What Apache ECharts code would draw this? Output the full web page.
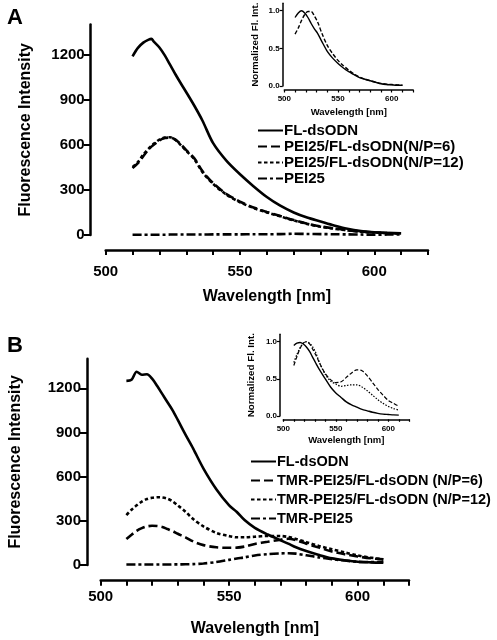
<!DOCTYPE html>
<html><head><meta charset="utf-8">
<script src="https://cdn.jsdelivr.net/npm/echarts@6/dist/echarts.min.js"></script>
<style>html,body{margin:0;padding:0;background:#fff}#c{width:497px;height:640px}</style>
</head><body><div id="c"></div>
<script>
// ---------- Panel A (main) ----------
var wlA = [510,512,514,516,517,518,520,522,524,526,528,530,533,536,540,545,550,555,560,565,570,575,580,585,590,595,600,605,610];
var flA    = [1189,1245,1280,1300,1305,1285,1248,1195,1132,1068,1008,950,860,762,611,493,404,325,253,195,150,116,90,64,42,27,18,14,11];
var np6A   = [445,478,525,570,588,602,630,645,648,635,602,565,510,425,345,272,222,183,153,126,99,75,57,44,32,23,17,13,11];
var np12A  = [452,485,535,575,592,608,635,648,650,632,598,560,505,420,340,268,218,180,150,124,97,74,55,42,31,22,16,12,10];
var peiA   = [2,2,2,2,2,2,2,2,3,3,3,3,3,3,4,4,4,5,5,6,8,7,6,5,4,3,2,3,4];
var namesA = ['FL-dsODN','PEI25/FL-dsODN(N/P=6)','PEI25/FL-dsODN(N/P=12)','PEI25'];

// ---------- Panel B (main) ----------
var wlB = [510,512,514,516,518,520,522,524,526,528,530,533,536,540,545,550,553,556,560,565,570,573,576,580,585,590,595,600,605,610];
var flB    = [1250,1258,1312,1292,1295,1265,1215,1160,1105,1050,985,885,790,655,515,405,360,305,252,207,168,145,120,95,68,45,32,22,18,16];
var np6B   = [176,205,232,250,262,266,265,258,244,230,212,188,160,135,120,117,118,125,143,158,172,178,168,145,118,92,73,58,46,38];
var np12B  = [339,375,405,430,448,456,460,458,450,432,405,362,312,262,218,196,188,188,192,197,197,190,177,155,129,107,85,65,50,38];
var tmrB   = [3,3,3,3,3,3,3,3,3,4,4,5,6,10,20,35,44,52,65,74,79,80,77,66,52,40,30,22,20,20];
var namesB = ['FL-dsODN','TMR-PEI25/FL-dsODN (N/P=6)','TMR-PEI25/FL-dsODN (N/P=12)','TMR-PEI25'];

// ---------- Insets (normalized) ----------
var wlIn = [510,513,516,519,522,525,528,531,535,540,545,550,555,560,565,570,575,580,585,590,595,600,605,610];
var inA_fl  = [0.91,0.97,1.0,0.97,0.91,0.83,0.76,0.70,0.59,0.46,0.37,0.30,0.24,0.19,0.15,0.11,0.09,0.07,0.05,0.03,0.02,0.015,0.01,0.01];
var inA_np  = [0.69,0.77,0.87,0.95,0.99,0.99,0.93,0.85,0.70,0.54,0.43,0.34,0.27,0.21,0.16,0.12,0.09,0.07,0.05,0.035,0.025,0.02,0.015,0.01];
var inB_fl  = [0.95,0.98,0.99,0.97,0.93,0.87,0.79,0.71,0.61,0.50,0.39,0.31,0.25,0.19,0.15,0.12,0.09,0.07,0.05,0.035,0.025,0.02,0.015,0.012];
var inB_np6 = [0.68,0.80,0.91,0.98,1.0,0.97,0.90,0.82,0.70,0.57,0.49,0.45,0.46,0.52,0.58,0.62,0.61,0.54,0.45,0.36,0.28,0.21,0.17,0.13];
var inB_np12= [0.72,0.83,0.92,0.98,1.0,0.98,0.93,0.85,0.70,0.56,0.47,0.43,0.40,0.41,0.42,0.42,0.39,0.34,0.28,0.22,0.17,0.13,0.10,0.08];

// ---------- Ticks ----------
var xTicks = [500,510,520,530,540,550,560,570,580,590,600,610,620];
var xLabels = [500,550,600];
var yTicksMain = [0,300,600,900,1200];
var yTicksInset = [0,0.5,1.0];
var xTitle = 'Wavelength [nm]';
var yTitleMain = 'Fluorescence Intensity';
var yTitleInset = 'Normalized Fl. Int.';

var FONT = 'Liberation Sans, Arial, sans-serif';
function pairs(xs, ys){ return xs.map(function(x,i){return [x, ys[i]];}); }

var styles = [
  {type:'solid'},
  {type:[9,4]},
  {type:[3.5,2.5]},
  {type:[9,3,3,3]}
];
var inStyles = [{type:'solid'},{type:[4,2]},{type:[1.5,1.5]}];

function xAx(gi, offset, fs, titleFs, gap, tickLen, margin){
  return {type:'value', gridIndex:gi, min:500, max:620, position:'bottom', offset:offset,
    axisLine:{show:true, onZero:false, lineStyle:{color:'#000', width: fs>10?2.5:1.5}},
    axisTick:{show:true, customValues:xTicks, length:tickLen, lineStyle:{color:'#000', width: fs>10?2:1.2}},
    axisLabel:{customValues:xLabels, color:'#000', fontSize:fs, fontWeight:'bold', fontFamily:FONT, margin:margin},
    splitLine:{show:false},
    name:xTitle, nameLocation:'middle', nameGap:gap,
    nameTextStyle:{color:'#000', fontSize:titleFs, fontWeight:'bold', fontFamily:FONT}};
}
function yAx(gi, max, ticks, offset, fs, titleFs, gap, tickLen, fmt){
  return {type:'value', gridIndex:gi, min:0, max:max, offset:offset,
    axisLine:{show:true, lineStyle:{color:'#000', width: fs>10?2.5:1.5}},
    axisTick:{show:true, customValues:ticks, length:tickLen, lineStyle:{color:'#000', width: fs>10?2:1.2}},
    axisLabel:{customValues:ticks, color:'#000', fontSize:fs, fontWeight:'bold', fontFamily:FONT, margin: fs>10?6:3, formatter:fmt},
    splitLine:{show:false},
    name:yTitleMain, nameLocation:'middle', nameGap:gap, nameRotate:90,
    nameTextStyle:{color:'#000', fontSize:titleFs, fontWeight:'bold', fontFamily:FONT}};
}

var grids = [
  {left:105.7, right:69, top:24.6, bottom:405},      // A main
  {left:284.3, right:83.8, top:3.2, bottom:554},     // A inset
  {left:89, right:88, top:358.8, bottom:75},         // B main
  {left:283.3, right:87.7, top:334.3, bottom:224}    // B inset
];

var xAxes = [
  xAx(0, 15, 15, 16, 39, 5, 14),
  xAx(1, 4, 8, 9.5, 17, 2.5, 5),
  xAx(2, 15.7, 15, 16, 40, 5, 9),
  xAx(3, 3.3, 8, 9.5, 16, 2.5, 5)
];
var fmtInset = function(v){ return v.toFixed(1); };
var fmtMain = function(v){ return String(v); };
var yAxes = [
  yAx(0, 1400, yTicksMain, 15, 15, 16, 57, 7, fmtMain),
  yAx(1, 1.1, yTicksInset, 1.6, 8, 9.8, 22, 3, fmtInset),
  yAx(2, 1400, yTicksMain, 13.7, 15, 16, 63, 7, fmtMain),
  yAx(3, 1.1, yTicksInset, 3.3, 8, 9.8, 24, 3, fmtInset)
];
yAxes[1].name = yTitleInset; yAxes[3].name = yTitleInset;

function ser(name, xs, ys, gi, st, w){
  return {type:'line', name:name, xAxisIndex:gi, yAxisIndex:gi, data:pairs(xs, ys),
    symbol:'none', smooth:0.3, silent:true, animation:false,
    lineStyle:{color:'#000', width:w, type:st.type}, itemStyle:{color:'#000'}};
}

var series = [];
[flA, np6A, np12A, peiA].forEach(function(d,i){ series.push(ser(namesA[i], wlA, d, 0, styles[i], 2.6)); });
[flB, np6B, np12B, tmrB].forEach(function(d,i){ series.push(ser(i===0 ? 'FL-dsODN ' : namesB[i], wlB, d, 2, styles[i], 2.6)); });
series.push(ser('inA-fl', wlIn, inA_fl, 1, inStyles[0], 1.4));
series.push(ser('inA-np', wlIn, inA_np, 1, inStyles[1], 1.4));
series.push(ser('inB-fl', wlIn, inB_fl, 3, inStyles[0], 1.4));
series.push(ser('inB-np6', wlIn, inB_np6, 3, inStyles[1], 1.2));
series.push(ser('inB-np12', wlIn, inB_np12, 3, inStyles[2], 1.2));

var legendCommon = {orient:'vertical', selectedMode:false, itemWidth:25, itemHeight:14, padding:0,
  itemStyle:{opacity:0, borderWidth:0},
  textStyle:{color:'#000', fontWeight:'bold', fontFamily:FONT, padding:[0,0,0,-4]}};

var option = {
  animation:false,
  backgroundColor:'#fff',
  title:[
    {text:'A', left:2, top:2, textStyle:{fontSize:22, fontWeight:'bold', color:'#000', fontFamily:FONT}},
    {text:'B', left:2, top:330, textStyle:{fontSize:22, fontWeight:'bold', color:'#000', fontFamily:FONT}}
  ],
  grid:grids, xAxis:xAxes, yAxis:yAxes, series:series,
  legend:[
    Object.assign({}, legendCommon, {left:257, top:123, itemGap:1, data:namesA,
      textStyle:Object.assign({}, legendCommon.textStyle, {fontSize:15, lineHeight:14})}),
    Object.assign({}, legendCommon, {left:250, top:454, itemGap:4, data:['FL-dsODN '].concat(namesB.slice(1)),
      textStyle:Object.assign({}, legendCommon.textStyle, {fontSize:14.5, lineHeight:14})})
  ]
};
var chart = echarts.init(document.getElementById('c'), null, {renderer:'canvas'});
chart.setOption(option);
</script></body></html>
